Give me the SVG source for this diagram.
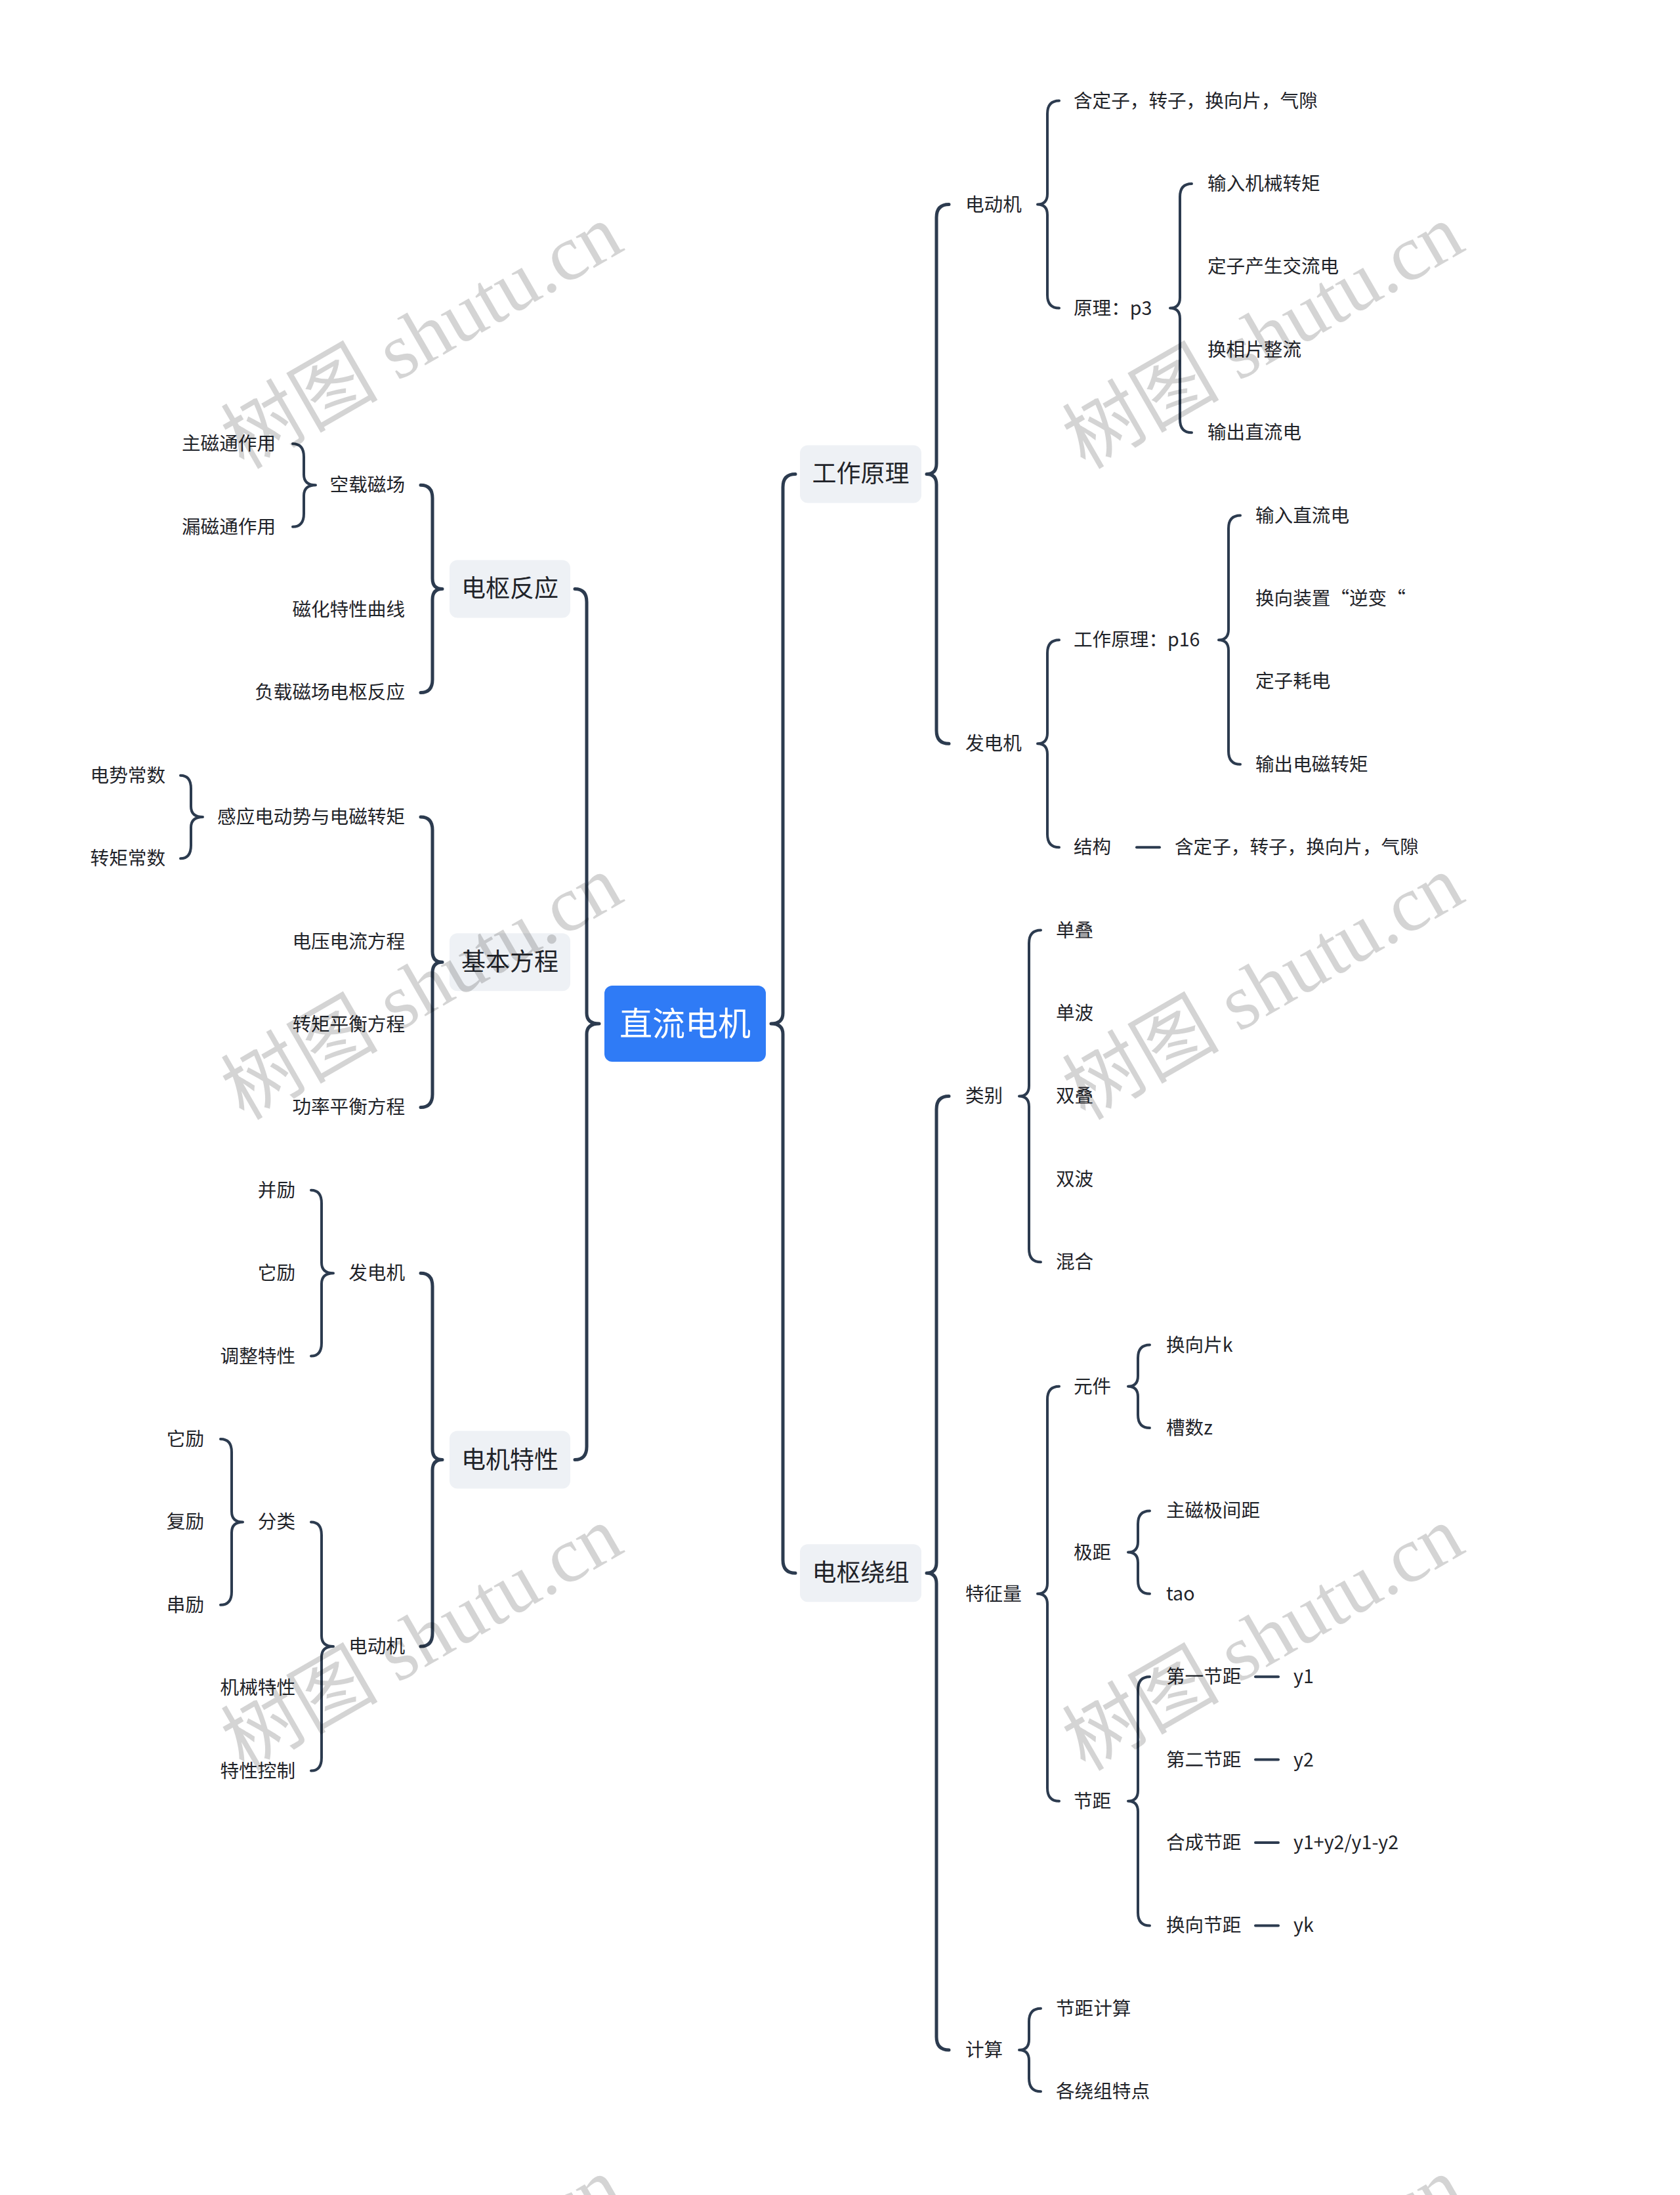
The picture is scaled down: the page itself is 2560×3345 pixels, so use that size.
<svg xmlns="http://www.w3.org/2000/svg" width="2560" height="3345" viewBox="0 0 2560 3345">
<defs>
<style>
.t{font-family:"Noto Sans CJK SC","Noto Sans",sans-serif;font-size:28.6px;fill:#1f2329}
.e{text-anchor:end}
.b{font-family:"Noto Sans CJK SC","Noto Sans",sans-serif;font-size:37px;fill:#1f2329;text-anchor:middle}
.box{fill:#eef1f5}
.c{fill:none;stroke:#2c3b4f;stroke-width:4;stroke-linecap:round;stroke-linejoin:round}
.m{stroke-width:5}
.wm{font-family:"Liberation Serif","Noto Sans CJK SC",serif;font-size:120px;fill:#000;fill-opacity:0.17;text-anchor:middle}
</style>
</defs>
<rect width="2560" height="3345" fill="#ffffff"/>
<g id="connectors">
<path class="c m" d="M1212,722.4 Q1193,722.4 1193,742.4 L1193,1544 Q1193,1560 1175,1560 Q1193,1560 1193,1576 L1193,2377.2 Q1193,2397.2 1212,2397.2"/>
<path class="c m" d="M1446,311.6 Q1427,311.6 1427,331.6 L1427,706.4 Q1427,722.4 1412,722.4 Q1427,722.4 1427,738.4 L1427,1113.2 Q1427,1133.2 1446,1133.2"/>
<path class="c m" d="M1446,1670.4 Q1427,1670.4 1427,1690.4 L1427,2381.2 Q1427,2397.2 1412,2397.2 Q1427,2397.2 1427,2413.2 L1427,3104 Q1427,3124 1446,3124"/>
<path class="c" d="M1614,153.6 Q1596,153.6 1596,173.6 L1596,295.6 Q1596,311.6 1581,311.6 Q1596,311.6 1596,327.6 L1596,449.6 Q1596,469.6 1614,469.6"/>
<path class="c" d="M1816,280 Q1798,280 1798,300 L1798,453.6 Q1798,469.6 1783,469.6 Q1798,469.6 1798,485.6 L1798,639.2 Q1798,659.2 1816,659.2"/>
<path class="c" d="M1614,975.2 Q1596,975.2 1596,995.2 L1596,1117.2 Q1596,1133.2 1581,1133.2 Q1596,1133.2 1596,1149.2 L1596,1271.2 Q1596,1291.2 1614,1291.2"/>
<path class="c" d="M1890,785.6 Q1872,785.6 1872,805.6 L1872,959.2 Q1872,975.2 1857,975.2 Q1872,975.2 1872,991.2 L1872,1144.8 Q1872,1164.8 1890,1164.8"/>
<path class="c" d="M1586,1417.6 Q1568,1417.6 1568,1437.6 L1568,1654.4 Q1568,1670.4 1553,1670.4 Q1568,1670.4 1568,1686.4 L1568,1903.2 Q1568,1923.2 1586,1923.2"/>
<path class="c" d="M1614,2112.8 Q1596,2112.8 1596,2132.8 L1596,2412.8 Q1596,2428.8 1581,2428.8 Q1596,2428.8 1596,2444.8 L1596,2724.8 Q1596,2744.8 1614,2744.8"/>
<path class="c" d="M1752,2049.6 Q1734,2049.6 1734,2069.6 L1734,2096.8 Q1734,2112.8 1719,2112.8 Q1734,2112.8 1734,2128.8 L1734,2156 Q1734,2176 1752,2176"/>
<path class="c" d="M1752,2302.4 Q1734,2302.4 1734,2322.4 L1734,2349.6 Q1734,2365.6 1719,2365.6 Q1734,2365.6 1734,2381.6 L1734,2408.8 Q1734,2428.8 1752,2428.8"/>
<path class="c" d="M1752,2555.2 Q1734,2555.2 1734,2575.2 L1734,2728.8 Q1734,2744.8 1719,2744.8 Q1734,2744.8 1734,2760.8 L1734,2914.4 Q1734,2934.4 1752,2934.4"/>
<path class="c" d="M1586,3060.8 Q1568,3060.8 1568,3080.8 L1568,3108 Q1568,3124 1553,3124 Q1568,3124 1568,3140 L1568,3167.2 Q1568,3187.2 1586,3187.2"/>
<path class="c" d="M1732,1291.2 L1767,1291.2"/>
<path class="c" d="M1913,2555.2 L1948,2555.2"/>
<path class="c" d="M1913,2681.6 L1948,2681.6"/>
<path class="c" d="M1913,2808 L1948,2808"/>
<path class="c" d="M1913,2934.4 L1948,2934.4"/>
<path class="c m" d="M876,897.4 Q894,897.4 894,917.4 L894,1544 Q894,1560 913,1560 Q894,1560 894,1576 L894,2204.6 Q894,2224.6 876,2224.6"/>
<path class="c m" d="M641,739.3 Q659,739.3 659,759.3 L659,881.4 Q659,897.4 674,897.4 Q659,897.4 659,913.4 L659,1035.4 Q659,1055.4 641,1055.4"/>
<path class="c m" d="M641,1245 Q659,1245 659,1265 L659,1450.2 Q659,1466.2 674,1466.2 Q659,1466.2 659,1482.2 L659,1667.4 Q659,1687.4 641,1687.4"/>
<path class="c m" d="M641,1940.2 Q659,1940.2 659,1960.2 L659,2208.6 Q659,2224.6 674,2224.6 Q659,2224.6 659,2240.6 L659,2489 Q659,2509 641,2509"/>
<path class="c" d="M446,676.3 Q463,676.3 463,696.3 L463,723.3 Q463,739.3 481,739.3 Q463,739.3 463,755.3 L463,782.7 Q463,802.7 446,802.7"/>
<path class="c" d="M275,1181.8 Q291,1181.8 291,1201.8 L291,1229 Q291,1245 309,1245 Q291,1245 291,1261 L291,1288.2 Q291,1308.2 275,1308.2"/>
<path class="c" d="M474,1813.8 Q490,1813.8 490,1833.8 L490,1924.2 Q490,1940.2 508,1940.2 Q490,1940.2 490,1956.2 L490,2046.6 Q490,2066.6 474,2066.6"/>
<path class="c" d="M474,2319.4 Q490,2319.4 490,2339.4 L490,2493 Q490,2509 508,2509 Q490,2509 490,2525 L490,2678.6 Q490,2698.6 474,2698.6"/>
<path class="c" d="M336,2193 Q353,2193 353,2213 L353,2303.4 Q353,2319.4 370,2319.4 Q353,2319.4 353,2335.4 L353,2425.8 Q353,2445.8 336,2445.8"/>
</g>
<g id="root"><rect x="921" y="1502" width="246" height="116" rx="12" fill="#2f7bf6"/><text x="1044" y="1578" font-family="Noto Sans CJK SC, sans-serif" font-size="50" fill="#ffffff" text-anchor="middle">直流电机</text></g>
<g id="n-gzyl"><rect class="box" x="1219" y="678.4" width="185" height="88" rx="12"/><text class="b" x="1311.5" y="735.4">工作原理</text></g>
<g id="n-dsrz"><rect class="box" x="1219" y="2353.2" width="185" height="88" rx="12"/><text class="b" x="1311.5" y="2410.2">电枢绕组</text></g>
<g id="n-dsfy"><rect class="box" x="685" y="853.4" width="184" height="88" rx="12"/><text class="b" x="777" y="910.4">电枢反应</text></g>
<g id="n-jbfc"><rect class="box" x="685" y="1422.2" width="184" height="88" rx="12"/><text class="b" x="777" y="1479.2">基本方程</text></g>
<g id="n-djtx"><rect class="box" x="685" y="2180.6" width="184" height="88" rx="12"/><text class="b" x="777" y="2237.6">电机特性</text></g>
<g id="n-r1"><text class="t" x="1471" y="321.6">电动机</text></g>
<g id="n-r2"><text class="t" x="1471" y="1143.2">发电机</text></g>
<g id="n-r3"><text class="t" x="1471" y="1680.4">类别</text></g>
<g id="n-r4"><text class="t" x="1471" y="2438.8">特征量</text></g>
<g id="n-r5"><text class="t" x="1471" y="3134">计算</text></g>
<g id="n-r6"><text class="t" x="1636" y="163.6">含定子，转子，换向片，气隙</text></g>
<g id="n-r7"><text class="t" x="1636" y="479.6">原理：p3</text></g>
<g id="n-r8"><text class="t" x="1636" y="985.2">工作原理：p16</text></g>
<g id="n-r9"><text class="t" x="1636" y="1301.2">结构</text></g>
<g id="n-r10"><text class="t" x="1790" y="1301.2">含定子，转子，换向片，气隙</text></g>
<g id="n-r11"><text class="t" x="1840" y="290">输入机械转矩</text></g>
<g id="n-r12"><text class="t" x="1840" y="416.4">定子产生交流电</text></g>
<g id="n-r13"><text class="t" x="1840" y="542.8">换相片整流</text></g>
<g id="n-r14"><text class="t" x="1840" y="669.2">输出直流电</text></g>
<g id="n-r15"><text class="t" x="1913" y="795.6">输入直流电</text></g>
<g id="n-r16"><text class="t" x="1913" y="922">换向装置“逆变“</text></g>
<g id="n-r17"><text class="t" x="1913" y="1048.4">定子耗电</text></g>
<g id="n-r18"><text class="t" x="1913" y="1174.8">输出电磁转矩</text></g>
<g id="n-r19"><text class="t" x="1609" y="1427.6">单叠</text></g>
<g id="n-r20"><text class="t" x="1609" y="1554">单波</text></g>
<g id="n-r21"><text class="t" x="1609" y="1680.4">双叠</text></g>
<g id="n-r22"><text class="t" x="1609" y="1806.8">双波</text></g>
<g id="n-r23"><text class="t" x="1609" y="1933.2">混合</text></g>
<g id="n-r24"><text class="t" x="1636" y="2122.8">元件</text></g>
<g id="n-r25"><text class="t" x="1636" y="2375.6">极距</text></g>
<g id="n-r26"><text class="t" x="1636" y="2754.8">节距</text></g>
<g id="n-r27"><text class="t" x="1777" y="2059.6">换向片k</text></g>
<g id="n-r28"><text class="t" x="1777" y="2186">槽数z</text></g>
<g id="n-r29"><text class="t" x="1777" y="2312.4">主磁极间距</text></g>
<g id="n-r30"><text class="t" x="1777" y="2438.8">tao</text></g>
<g id="n-r31"><text class="t" x="1777" y="2565.2">第一节距</text></g>
<g id="n-r32"><text class="t" x="1971" y="2565.2">y1</text></g>
<g id="n-r33"><text class="t" x="1777" y="2691.6">第二节距</text></g>
<g id="n-r34"><text class="t" x="1971" y="2691.6">y2</text></g>
<g id="n-r35"><text class="t" x="1777" y="2818">合成节距</text></g>
<g id="n-r36"><text class="t" x="1971" y="2818">y1+y2/y1-y2</text></g>
<g id="n-r37"><text class="t" x="1777" y="2944.4">换向节距</text></g>
<g id="n-r38"><text class="t" x="1971" y="2944.4">yk</text></g>
<g id="n-r39"><text class="t" x="1609" y="3070.8">节距计算</text></g>
<g id="n-r40"><text class="t" x="1609" y="3197.2">各绕组特点</text></g>
<g id="n-l1"><text class="t e" x="617" y="749.3">空载磁场</text></g>
<g id="n-l2"><text class="t e" x="617" y="939">磁化特性曲线</text></g>
<g id="n-l3"><text class="t e" x="617" y="1065.4">负载磁场电枢反应</text></g>
<g id="n-l4"><text class="t e" x="617" y="1255">感应电动势与电磁转矩</text></g>
<g id="n-l5"><text class="t e" x="617" y="1444.6">电压电流方程</text></g>
<g id="n-l6"><text class="t e" x="617" y="1571">转矩平衡方程</text></g>
<g id="n-l7"><text class="t e" x="617" y="1697.4">功率平衡方程</text></g>
<g id="n-l8"><text class="t e" x="617" y="1950.2">发电机</text></g>
<g id="n-l9"><text class="t e" x="617" y="2519">电动机</text></g>
<g id="n-l10"><text class="t e" x="420" y="686.3">主磁通作用</text></g>
<g id="n-l11"><text class="t e" x="420" y="812.7">漏磁通作用</text></g>
<g id="n-l12"><text class="t e" x="252" y="1191.8">电势常数</text></g>
<g id="n-l13"><text class="t e" x="252" y="1318.2">转矩常数</text></g>
<g id="n-l14"><text class="t e" x="450" y="1823.8">并励</text></g>
<g id="n-l15"><text class="t e" x="450" y="1950.2">它励</text></g>
<g id="n-l16"><text class="t e" x="450" y="2076.6">调整特性</text></g>
<g id="n-l17"><text class="t e" x="450" y="2329.4">分类</text></g>
<g id="n-l18"><text class="t e" x="450" y="2582.2">机械特性</text></g>
<g id="n-l19"><text class="t e" x="450" y="2708.6">特性控制</text></g>
<g id="n-l20"><text class="t e" x="311" y="2203">它励</text></g>
<g id="n-l21"><text class="t e" x="311" y="2329.4">复励</text></g>
<g id="n-l22"><text class="t e" x="311" y="2455.8">串励</text></g>
<g id="watermarks">
<text class="wm" transform="translate(663,548) rotate(-30)">树图 shutu.cn</text>
<text class="wm" transform="translate(1945,548) rotate(-30)">树图 shutu.cn</text>
<text class="wm" transform="translate(663,1540) rotate(-30)">树图 shutu.cn</text>
<text class="wm" transform="translate(1945,1540) rotate(-30)">树图 shutu.cn</text>
<text class="wm" transform="translate(663,2532) rotate(-30)">树图 shutu.cn</text>
<text class="wm" transform="translate(1945,2532) rotate(-30)">树图 shutu.cn</text>
<text class="wm" transform="translate(663,3524) rotate(-30)">树图 shutu.cn</text>
<text class="wm" transform="translate(1945,3524) rotate(-30)">树图 shutu.cn</text>
</g>
</svg>
